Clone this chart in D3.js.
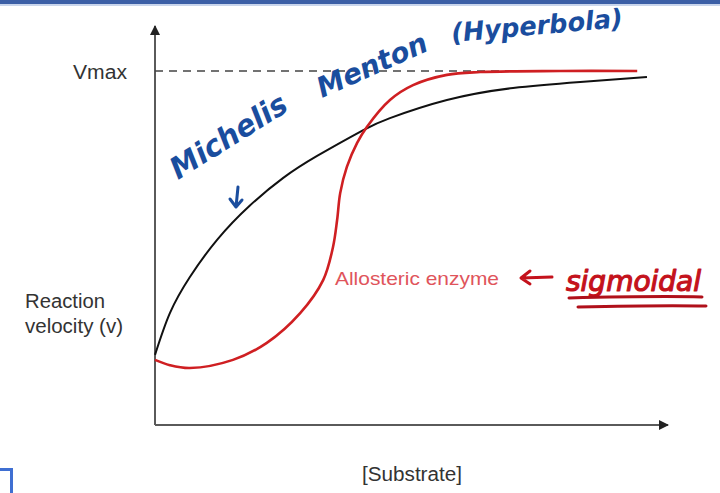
<!DOCTYPE html>
<html>
<head>
<meta charset="utf-8">
<script src="https://cdn.jsdelivr.net/npm/d3@7"></script>
<style>
  html, body { margin: 0; padding: 0; background: #fff; }
  svg { display: block; }
</style>
</head>
<body>
<svg id="chart" width="720" height="493"></svg>
<script>
// [Substrate] in relative units (0–100), velocity as a fraction of Vmax
const michaelisX = [0, 2.9, 6.8, 12.1, 18.5, 25.0, 31.6, 40.6, 45.8, 56.9, 69.8, 82.9, 95.9];
const michaelisV = [0.198, 0.316, 0.418, 0.523, 0.620, 0.698, 0.760, 0.833, 0.867, 0.918, 0.952, 0.969, 0.983];

const allostericX = [0, 2.9, 6.8, 15.2, 21.8, 28.3, 32.8, 34.7, 35.5, 36.1, 37.4, 39.4, 41.3, 45.8, 50.3, 56.9, 63.4, 79.0, 94.0];
const allostericV = [0.184, 0.169, 0.161, 0.184, 0.232, 0.316, 0.410, 0.503, 0.579, 0.655, 0.729, 0.797, 0.842, 0.918, 0.960, 0.989, 0.997, 1.0, 1.0];

const vmaxLevel = 1.0;
const vmaxLineEnd = 93.6;
const yAxisLabel = ["Reaction", "velocity (v)"];
const xAxisLabel = "[Substrate]";
const vmaxLabel = "Vmax";
const allostericLabel = "Allosteric enzyme";
const handNotes = ["Michelis", "Menton", "(Hyperbola)"];
const sigmoidNote = "sigmoidal";

const svg = d3.select("#chart");

const x = d3.scaleLinear().domain([0, 100]).range([155, 668]);
const y = d3.scaleLinear().domain([0, 1]).range([425, 71]);
const yTop = 26;

// frame fragments
svg.append("rect").attr("x", 0).attr("y", 0).attr("width", 720).attr("height", 4).attr("fill", "#3c5fa6");
svg.append("rect").attr("x", 0).attr("y", 4).attr("width", 720).attr("height", 2).attr("fill", "#c9d5ec");
svg.append("path").attr("d", "M0,469.5 H11.5 V493").attr("fill", "none")
  .attr("stroke", "#3f6fd2").attr("stroke-width", 3);

// arrow markers for axes
const defs = svg.append("defs");
defs.append("marker").attr("id", "arrowHead").attr("viewBox", "0 0 10 10")
  .attr("refX", 9).attr("refY", 5).attr("markerWidth", 5).attr("markerHeight", 5)
  .attr("markerUnits", "strokeWidth").attr("orient", "auto")
  .append("path").attr("d", "M0,0 L10,5 L0,10 z").attr("fill", "#222");

// axes
svg.append("line")
  .attr("x1", x(0)).attr("y1", y(0)).attr("x2", x(0)).attr("y2", yTop)
  .attr("stroke", "#5a5a5a").attr("stroke-width", 2).attr("marker-end", "url(#arrowHead)");
svg.append("line")
  .attr("x1", x(0)).attr("y1", y(0)).attr("x2", x(100)).attr("y2", y(0))
  .attr("stroke", "#5a5a5a").attr("stroke-width", 2).attr("marker-end", "url(#arrowHead)");

// Vmax reference line
svg.append("line")
  .attr("x1", x(0)).attr("y1", y(vmaxLevel)).attr("x2", x(vmaxLineEnd)).attr("y2", y(vmaxLevel))
  .attr("stroke", "#444").attr("stroke-width", 1.6).attr("stroke-dasharray", "8,6");

const hyperbolaLine = d3.line().x(d => x(d[0])).y(d => y(d[1])).curve(d3.curveNatural);
const sigmoidLine = d3.line().x(d => x(d[0])).y(d => y(d[1])).curve(d3.curveCatmullRom.alpha(0.5));

svg.append("path")
  .datum(michaelisX.map((v, i) => [v, michaelisV[i]]))
  .attr("d", hyperbolaLine).attr("fill", "none").attr("stroke", "#111").attr("stroke-width", 2);

svg.append("path")
  .datum(allostericX.map((v, i) => [v, allostericV[i]]))
  .attr("d", sigmoidLine).attr("fill", "none").attr("stroke", "#cf1f22").attr("stroke-width", 2.6);

// printed labels
const font = "'Liberation Sans', Arial, sans-serif";
svg.append("text").attr("x", 127).attr("y", 79).attr("text-anchor", "end")
  .attr("font-family", font).attr("font-size", 20).attr("fill", "#333")
  .attr("textLength", 54).attr("lengthAdjust", "spacingAndGlyphs").text(vmaxLabel);
const yLabelLen = [80, 98];
yAxisLabel.forEach((t, i) => {
  svg.append("text").attr("x", 25).attr("y", 308 + i * 25)
    .attr("font-family", font).attr("font-size", 20).attr("fill", "#333")
    .attr("textLength", yLabelLen[i]).attr("lengthAdjust", "spacingAndGlyphs").text(t);
});
svg.append("text").attr("x", 362).attr("y", 481)
  .attr("font-family", font).attr("font-size", 20).attr("fill", "#333")
  .attr("textLength", 100).attr("lengthAdjust", "spacingAndGlyphs").text(xAxisLabel);
svg.append("text").attr("x", 335).attr("y", 285)
  .attr("font-family", font).attr("font-size", 19).attr("fill", "#e0545b")
  .attr("textLength", 164).attr("lengthAdjust", "spacingAndGlyphs").text(allostericLabel);

// handwritten annotations
const hand = "'DejaVu Sans', sans-serif";
const blue = "#1a4d9e";
const notePlacement = [
  { x: 178, y: 180, angle: -32, len: 132, size: 30 },
  { x: 322, y: 98, angle: -24, len: 118, size: 28 },
  { x: 452, y: 42, angle: -5, len: 172, size: 26 }
];
handNotes.forEach((t, i) => {
  const p = notePlacement[i];
  svg.append("text")
    .attr("transform", `translate(${p.x},${p.y}) rotate(${p.angle})`)
    .attr("font-family", hand).attr("font-style", "oblique").attr("font-weight", "bold")
    .attr("font-size", p.size).attr("fill", blue)
    .attr("textLength", p.len).attr("lengthAdjust", "spacingAndGlyphs").text(t);
});
// small down arrow under the Michaelis note
svg.append("path").attr("d", "M238,187 L236,207 M230,199 L236,207 L242,200")
  .attr("fill", "none").attr("stroke", blue).attr("stroke-width", 3)
  .attr("stroke-linecap", "round").attr("stroke-linejoin", "round");

const red = "#c4121c";
svg.append("path").attr("d", "M552,277 L521,278 M530,271 L521,278 L530,284")
  .attr("fill", "none").attr("stroke", red).attr("stroke-width", 3)
  .attr("stroke-linecap", "round").attr("stroke-linejoin", "round");
svg.append("text").attr("x", 566).attr("y", 291)
  .attr("font-family", hand).attr("font-style", "oblique")
  .attr("font-size", 28).attr("fill", red)
  .attr("stroke", red).attr("stroke-width", 1.2).attr("stroke-linejoin", "round")
  .text(sigmoidNote);
svg.append("path").attr("d", "M569,298 C610,297 660,296 702,297")
  .attr("fill", "none").attr("stroke", "#b0101a").attr("stroke-width", 3).attr("stroke-linecap", "round");
svg.append("path").attr("d", "M578,307 C620,306 665,305 706,306")
  .attr("fill", "none").attr("stroke", "#b0101a").attr("stroke-width", 3).attr("stroke-linecap", "round");
</script>
</body>
</html>
